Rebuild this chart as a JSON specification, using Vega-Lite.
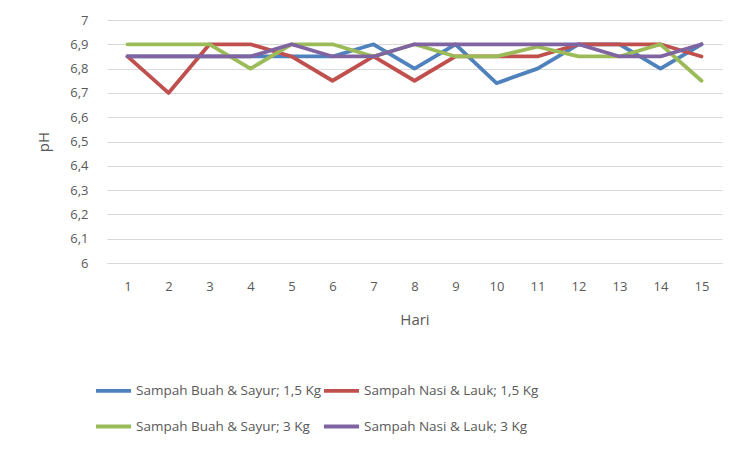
{
  "$schema": "https://vega.github.io/schema/vega-lite/v6.json",
  "width": 615,
  "height": 243,
  "autosize": {"type": "none"},
  "padding": {"left": 107, "top": 20, "right": 17, "bottom": 186},
  "background": "white",
  "config": {
    "view": {"stroke": null},
    "font": "Open Sans",
    "axis": {"labelColor": "#595959", "titleColor": "#595959", "labelFont": "Open Sans", "titleFont": "Open Sans", "titleFontWeight": "normal"},
    "legend": {"labelColor": "#595959", "labelFont": "Open Sans"}
  },
  "data": {
    "values": [
      {"hari": 1, "seri": "Sampah Buah & Sayur; 1,5 Kg", "ph": 6.85},
      {"hari": 2, "seri": "Sampah Buah & Sayur; 1,5 Kg", "ph": 6.85},
      {"hari": 3, "seri": "Sampah Buah & Sayur; 1,5 Kg", "ph": 6.85},
      {"hari": 4, "seri": "Sampah Buah & Sayur; 1,5 Kg", "ph": 6.85},
      {"hari": 5, "seri": "Sampah Buah & Sayur; 1,5 Kg", "ph": 6.85},
      {"hari": 6, "seri": "Sampah Buah & Sayur; 1,5 Kg", "ph": 6.85},
      {"hari": 7, "seri": "Sampah Buah & Sayur; 1,5 Kg", "ph": 6.9},
      {"hari": 8, "seri": "Sampah Buah & Sayur; 1,5 Kg", "ph": 6.8},
      {"hari": 9, "seri": "Sampah Buah & Sayur; 1,5 Kg", "ph": 6.9},
      {"hari": 10, "seri": "Sampah Buah & Sayur; 1,5 Kg", "ph": 6.74},
      {"hari": 11, "seri": "Sampah Buah & Sayur; 1,5 Kg", "ph": 6.8},
      {"hari": 12, "seri": "Sampah Buah & Sayur; 1,5 Kg", "ph": 6.9},
      {"hari": 13, "seri": "Sampah Buah & Sayur; 1,5 Kg", "ph": 6.9},
      {"hari": 14, "seri": "Sampah Buah & Sayur; 1,5 Kg", "ph": 6.8},
      {"hari": 15, "seri": "Sampah Buah & Sayur; 1,5 Kg", "ph": 6.9},
      {"hari": 1, "seri": "Sampah Nasi & Lauk; 1,5 Kg", "ph": 6.85},
      {"hari": 2, "seri": "Sampah Nasi & Lauk; 1,5 Kg", "ph": 6.7},
      {"hari": 3, "seri": "Sampah Nasi & Lauk; 1,5 Kg", "ph": 6.9},
      {"hari": 4, "seri": "Sampah Nasi & Lauk; 1,5 Kg", "ph": 6.9},
      {"hari": 5, "seri": "Sampah Nasi & Lauk; 1,5 Kg", "ph": 6.85},
      {"hari": 6, "seri": "Sampah Nasi & Lauk; 1,5 Kg", "ph": 6.75},
      {"hari": 7, "seri": "Sampah Nasi & Lauk; 1,5 Kg", "ph": 6.85},
      {"hari": 8, "seri": "Sampah Nasi & Lauk; 1,5 Kg", "ph": 6.75},
      {"hari": 9, "seri": "Sampah Nasi & Lauk; 1,5 Kg", "ph": 6.85},
      {"hari": 10, "seri": "Sampah Nasi & Lauk; 1,5 Kg", "ph": 6.85},
      {"hari": 11, "seri": "Sampah Nasi & Lauk; 1,5 Kg", "ph": 6.85},
      {"hari": 12, "seri": "Sampah Nasi & Lauk; 1,5 Kg", "ph": 6.9},
      {"hari": 13, "seri": "Sampah Nasi & Lauk; 1,5 Kg", "ph": 6.9},
      {"hari": 14, "seri": "Sampah Nasi & Lauk; 1,5 Kg", "ph": 6.9},
      {"hari": 15, "seri": "Sampah Nasi & Lauk; 1,5 Kg", "ph": 6.85},
      {"hari": 1, "seri": "Sampah Buah & Sayur; 3 Kg", "ph": 6.9},
      {"hari": 2, "seri": "Sampah Buah & Sayur; 3 Kg", "ph": 6.9},
      {"hari": 3, "seri": "Sampah Buah & Sayur; 3 Kg", "ph": 6.9},
      {"hari": 4, "seri": "Sampah Buah & Sayur; 3 Kg", "ph": 6.8},
      {"hari": 5, "seri": "Sampah Buah & Sayur; 3 Kg", "ph": 6.9},
      {"hari": 6, "seri": "Sampah Buah & Sayur; 3 Kg", "ph": 6.9},
      {"hari": 7, "seri": "Sampah Buah & Sayur; 3 Kg", "ph": 6.85},
      {"hari": 8, "seri": "Sampah Buah & Sayur; 3 Kg", "ph": 6.9},
      {"hari": 9, "seri": "Sampah Buah & Sayur; 3 Kg", "ph": 6.85},
      {"hari": 10, "seri": "Sampah Buah & Sayur; 3 Kg", "ph": 6.85},
      {"hari": 11, "seri": "Sampah Buah & Sayur; 3 Kg", "ph": 6.89},
      {"hari": 12, "seri": "Sampah Buah & Sayur; 3 Kg", "ph": 6.85},
      {"hari": 13, "seri": "Sampah Buah & Sayur; 3 Kg", "ph": 6.85},
      {"hari": 14, "seri": "Sampah Buah & Sayur; 3 Kg", "ph": 6.9},
      {"hari": 15, "seri": "Sampah Buah & Sayur; 3 Kg", "ph": 6.75},
      {"hari": 1, "seri": "Sampah Nasi & Lauk; 3 Kg", "ph": 6.85},
      {"hari": 2, "seri": "Sampah Nasi & Lauk; 3 Kg", "ph": 6.85},
      {"hari": 3, "seri": "Sampah Nasi & Lauk; 3 Kg", "ph": 6.85},
      {"hari": 4, "seri": "Sampah Nasi & Lauk; 3 Kg", "ph": 6.85},
      {"hari": 5, "seri": "Sampah Nasi & Lauk; 3 Kg", "ph": 6.9},
      {"hari": 6, "seri": "Sampah Nasi & Lauk; 3 Kg", "ph": 6.85},
      {"hari": 7, "seri": "Sampah Nasi & Lauk; 3 Kg", "ph": 6.85},
      {"hari": 8, "seri": "Sampah Nasi & Lauk; 3 Kg", "ph": 6.9},
      {"hari": 9, "seri": "Sampah Nasi & Lauk; 3 Kg", "ph": 6.9},
      {"hari": 10, "seri": "Sampah Nasi & Lauk; 3 Kg", "ph": 6.9},
      {"hari": 11, "seri": "Sampah Nasi & Lauk; 3 Kg", "ph": 6.9},
      {"hari": 12, "seri": "Sampah Nasi & Lauk; 3 Kg", "ph": 6.9},
      {"hari": 13, "seri": "Sampah Nasi & Lauk; 3 Kg", "ph": 6.85},
      {"hari": 14, "seri": "Sampah Nasi & Lauk; 3 Kg", "ph": 6.85},
      {"hari": 15, "seri": "Sampah Nasi & Lauk; 3 Kg", "ph": 6.9}
    ]
  },
  "mark": {"type": "line", "strokeWidth": 3.8, "strokeCap": "round", "strokeJoin": "round"},
  "encoding": {
    "x": {
      "field": "hari", "type": "ordinal", "title": "Hari",
      "scale": {"type": "point", "padding": 0.5},
      "axis": {"labelAngle": 0, "labelFontSize": 13, "labelPadding": 17, "ticks": false, "domainColor": "#D9D9D9", "grid": false, "titleFontSize": 15, "titlePadding": 19}
    },
    "y": {
      "field": "ph", "type": "quantitative", "title": "pH",
      "scale": {"domain": [6, 7], "nice": false, "zero": false},
      "axis": {"values": [6, 6.1, 6.2, 6.3, 6.4, 6.5, 6.6, 6.7, 6.8, 6.9, 7], "labelExpr": "replace(format(datum.value, '.2~f'), '.', ',')", "labelFontSize": 13, "labelPadding": 19, "ticks": false, "domain": false, "gridColor": "#D9D9D9", "gridWidth": 1, "titleFontSize": 15, "titlePadding": 18}
    },
    "color": {
      "field": "seri", "type": "nominal", "title": null,
      "scale": {
        "domain": ["Sampah Buah & Sayur; 1,5 Kg", "Sampah Nasi & Lauk; 1,5 Kg", "Sampah Buah & Sayur; 3 Kg", "Sampah Nasi & Lauk; 3 Kg"],
        "range": ["#4F81BD", "#C0504D", "#9BBB59", "#8064A2"]
      },
      "legend": {
        "orient": "none", "legendX": -13, "legendY": 351, "columns": 2, "direction": "horizontal",
        "symbolType": "stroke", "symbolSize": 1225, "symbolStrokeWidth": 3.8,
        "labelFontSize": 13.5, "labelOffset": 3, "columnPadding": -9, "rowPadding": 8, "labelLimit": 300
      }
    },
    "order": {"field": "hari", "type": "quantitative"}
  }
}
